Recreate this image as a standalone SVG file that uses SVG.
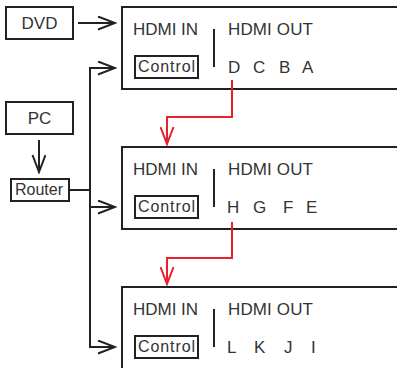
<svg xmlns="http://www.w3.org/2000/svg" width="397" height="368" viewBox="0 0 397 368">
<defs>
<style>
.box{fill:#fff;stroke:#222;stroke-width:2}
.sbox{fill:#fff;stroke:#222;stroke-width:2}
.t{font-family:"Liberation Sans",Arial,sans-serif;font-size:17px;fill:#333}
.ts{font-family:"Liberation Sans",Arial,sans-serif;font-size:16px;fill:#333}
.ln{fill:none;stroke:#222;stroke-width:2}
.red{fill:none;stroke:#e8202a;stroke-width:2}
</style>
<marker id="ah" markerWidth="20" markerHeight="16" refX="18" refY="7" orient="auto" markerUnits="userSpaceOnUse">
<path d="M1,0.5 L18,7 L1,13.5" fill="none" stroke="#222" stroke-width="2"/>
</marker>
<marker id="ahr" markerWidth="16" markerHeight="20" refX="7" refY="18" orient="0" markerUnits="userSpaceOnUse">
<path d="M0.5,1 L7,18 L13.5,1" fill="none" stroke="#e8202a" stroke-width="2"/>
</marker>
</defs>
<rect width="397" height="368" fill="#fff"/>
<g id="dvd">
<rect class="box" x="6" y="7" width="67" height="32"/>
<text class="t" x="39.5" y="29" text-anchor="middle">DVD</text>
</g>
<g id="pc">
<rect class="box" x="6" y="102" width="67" height="32"/>
<text class="t" x="39.5" y="124" text-anchor="middle">PC</text>
</g>
<g id="router">
<rect class="sbox" x="11" y="179" width="58" height="22"/>
<text class="ts" x="15" y="195" textLength="48">Router</text>
</g>
<g id="switch1">
<rect class="box" x="122" y="7" width="290" height="82"/>
<text class="t" x="133" y="35" textLength="65">HDMI IN</text>
<line class="ln" x1="214" y1="29" x2="214" y2="67"/>
<text class="t" x="228" y="35" textLength="85">HDMI OUT</text>
<rect class="sbox" x="135" y="56" width="63" height="22"/>
<text class="ts" x="138" y="72" textLength="57">Control</text>
<text class="t" x="228 253 279 302" y="73">DCBA</text>
</g>
<g id="switch2">
<rect class="box" x="122" y="147" width="290" height="82"/>
<text class="t" x="133" y="175" textLength="65">HDMI IN</text>
<line class="ln" x1="214" y1="169" x2="214" y2="207"/>
<text class="t" x="228" y="175" textLength="85">HDMI OUT</text>
<rect class="sbox" x="135" y="196" width="63" height="22"/>
<text class="ts" x="138" y="212" textLength="57">Control</text>
<text class="t" x="227 253 283 306" y="213">HGFE</text>
</g>
<g id="switch3">
<rect class="box" x="122" y="287" width="290" height="82"/>
<text class="t" x="133" y="315" textLength="65">HDMI IN</text>
<line class="ln" x1="214" y1="309" x2="214" y2="347"/>
<text class="t" x="228" y="315" textLength="85">HDMI OUT</text>
<rect class="sbox" x="135" y="336" width="63" height="22"/>
<text class="ts" x="138" y="352" textLength="57">Control</text>
<text class="t" x="227 254 284 311" y="353">LKJI</text>
</g>
<g id="connectors">
<line class="ln" x1="78" y1="23" x2="115" y2="23" marker-end="url(#ah)"/>
<line class="ln" x1="39" y1="140" x2="39" y2="172" marker-end="url(#ah)"/>
<polyline class="ln" points="69,190 90,190"/>
<polyline class="ln" points="115,68 90,68 90,347 115,347" marker-end="url(#ah)"/>
<line class="ln" x1="90" y1="68" x2="115" y2="68" marker-end="url(#ah)"/>
<line class="ln" x1="90" y1="207" x2="115" y2="207" marker-end="url(#ah)"/>
<polyline class="red" points="232,80 232,117 167,117 167,144" marker-end="url(#ahr)"/>
<polyline class="red" points="232,222 232,258 167,258 167,284" marker-end="url(#ahr)"/>
</g>
</svg>
